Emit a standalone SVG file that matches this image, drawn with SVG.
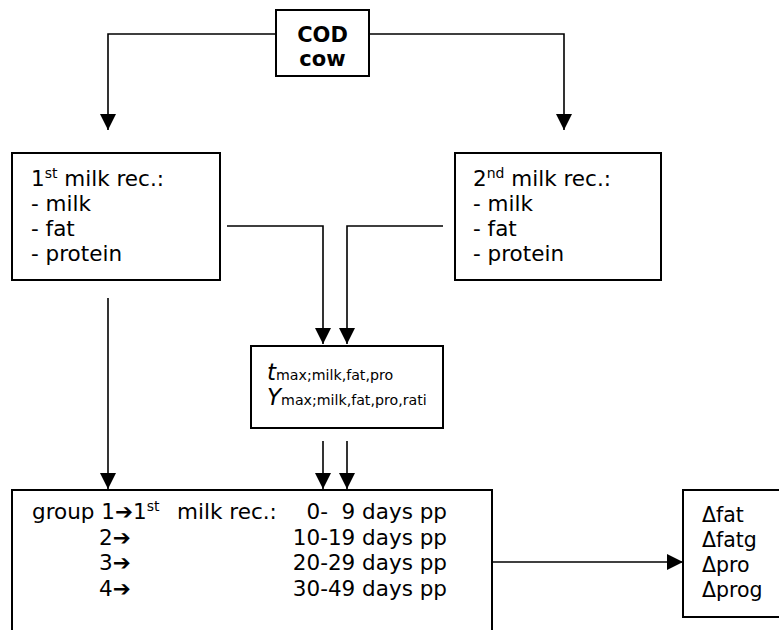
<svg xmlns="http://www.w3.org/2000/svg" width="779" height="630" viewBox="0 0 779 630">
<style>
.box{fill:#fff;stroke:#000;stroke-width:2}
.ln{fill:none;stroke:#000;stroke-width:1.6}
text{font-family:"DejaVu Sans",Verdana,sans-serif;font-size:21.5px;fill:#000}
.b{font-weight:bold;font-size:21px}
.sup{font-size:14px}
.sub{font-size:14.2px}
</style>
<defs>
<marker id="ah" markerUnits="userSpaceOnUse" markerWidth="16" markerHeight="16" viewBox="0 0 16 16" refX="16" refY="8" orient="auto">
<path d="M0,0 L16,8 L0,16 Z" fill="#000"/>
</marker>
</defs>
<g id="connectors">
<path class="ln" d="M276,34 H108 V130" marker-end="url(#ah)"/>
<path class="ln" d="M369,34 H564 V130" marker-end="url(#ah)"/>
<path class="ln" d="M227,226 H323 V344" marker-end="url(#ah)"/>
<path class="ln" d="M443,226 H347 V344" marker-end="url(#ah)"/>
<path class="ln" d="M108,298 V489" marker-end="url(#ah)"/>
<path class="ln" d="M323,441 V489" marker-end="url(#ah)"/>
<path class="ln" d="M347,441 V489" marker-end="url(#ah)"/>
<path class="ln" d="M492,562 H683" marker-end="url(#ah)"/>
</g>
<g id="cod">
<rect class="box" x="276" y="10" width="93" height="66"/>
<text class="b" x="322.5" y="42" text-anchor="middle">COD</text>
<text class="b" x="322.5" y="66" text-anchor="middle">cow</text>
</g>
<g id="rec1">
<rect class="box" x="12" y="153" width="208" height="127"/>
<text x="31" y="186">1<tspan class="sup" dy="-8">st</tspan><tspan dy="8"> milk rec.:</tspan></text>
<text x="31" y="211">- milk</text>
<text x="31" y="236">- fat</text>
<text x="31" y="261">- protein</text>
</g>
<g id="rec2">
<rect class="box" x="455" y="153" width="206" height="127"/>
<text x="473" y="186">2<tspan class="sup" dy="-8">nd</tspan><tspan dy="8"> milk rec.:</tspan></text>
<text x="473" y="211">- milk</text>
<text x="473" y="236">- fat</text>
<text x="473" y="261">- protein</text>
</g>
<g id="max">
<rect class="box" x="251" y="346" width="192" height="82"/>
<text x="267" y="380"><tspan font-style="italic" font-size="23">t</tspan><tspan class="sub">max;milk,fat,pro</tspan></text>
<text x="267" y="405"><tspan font-style="italic" font-size="23">Y</tspan><tspan class="sub">max;milk,fat,pro,rati</tspan></text>
</g>
<g id="groups">
<rect class="box" x="12" y="490" width="480" height="160"/>
<text x="32" y="519" xml:space="preserve">group 1➔1<tspan class="sup" dy="-8">st</tspan><tspan dy="8" dx="4">  milk rec.:</tspan></text>
<text x="447" y="519" text-anchor="end" xml:space="preserve">0-  9 days pp</text>
<text x="99" y="545">2➔</text>
<text x="447" y="545" text-anchor="end">10-19 days pp</text>
<text x="99" y="570">3➔</text>
<text x="447" y="570" text-anchor="end">20-29 days pp</text>
<text x="99" y="596">4➔</text>
<text x="447" y="596" text-anchor="end">30-49 days pp</text>
</g>
<g id="delta">
<rect class="box" x="683" y="490" width="100" height="127"/>
<text x="702" y="522" style="font-size:20.5px">Δfat</text>
<text x="702" y="547" style="font-size:20.5px">Δfatg</text>
<text x="702" y="572" style="font-size:20.5px">Δpro</text>
<text x="702" y="597" style="font-size:20.5px">Δprog</text>
</g>
</svg>
